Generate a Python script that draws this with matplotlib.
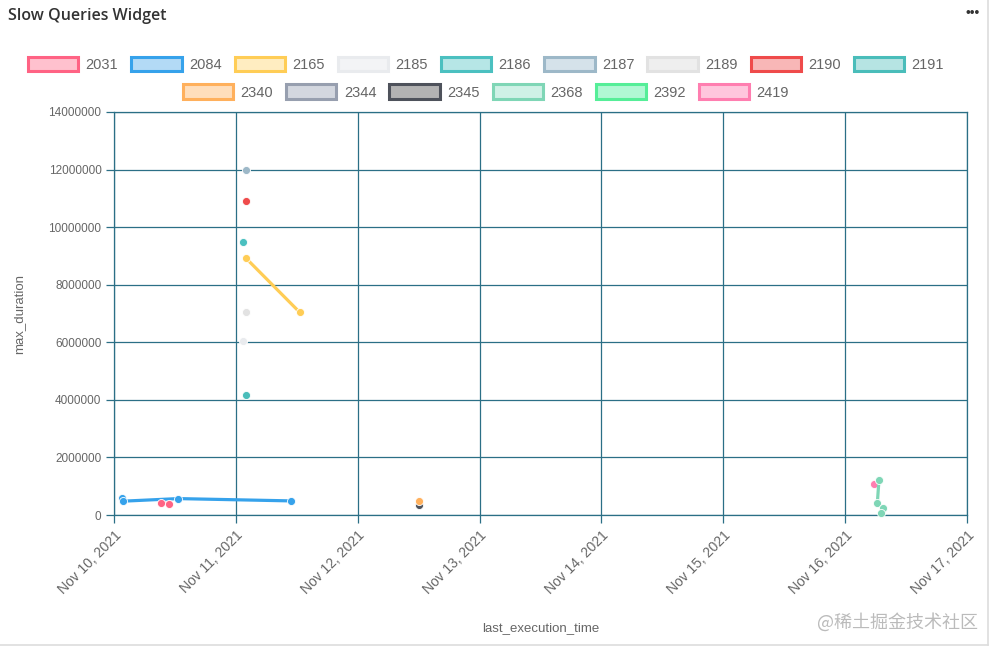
import matplotlib
matplotlib.use("Agg")
import matplotlib.pyplot as plt
import matplotlib.dates as mdates
from matplotlib.patches import Patch
from matplotlib.lines import Line2D
import pandas as pd

plt.rcParams['font.family'] = ['Liberation Sans', 'DejaVu Sans']

# ---- data ----
series_names = ["2031", "2084", "2165", "2185", "2186", "2187", "2189", "2190", "2191",
                "2340", "2344", "2345", "2368", "2392", "2419"]
edge_colors = ["#FF6384", "#36A2EB", "#FFCD56", "#E9EBEE", "#4BC0C0", "#9DB8C8", "#E2E2E2",
               "#EF4B4B", "#4ABDBA", "#FFB05C", "#979FAF", "#4E525B", "#7FD6B6", "#55EE98", "#FF7EB0"]
fill_colors = ["#FFC1CE", "#B3DAF6", "#FFEDC1", "#F3F4F6", "#B6E6E6", "#D5E2EA", "#EFEFEF",
               "#F8B7B7", "#B6E4E3", "#FFDEBB", "#D3D7DF", "#B3B3B3", "#CFF1E6", "#B0F8D4", "#FFC6DD"]

t_2031 = ["2021-11-10 09:15", "2021-11-10 10:50"]
v_2031 = [430000, 390000]
t_2084 = ["2021-11-10 01:30", "2021-11-10 01:45", "2021-11-10 12:40", "2021-11-11 10:50"]
v_2084 = [590000, 480000, 570000, 490000]
t_2165 = ["2021-11-11 02:00", "2021-11-11 12:35"]
v_2165 = [8920000, 7040000]
t_2185 = ["2021-11-11 01:30"]
v_2185 = [6040000]
t_2186 = ["2021-11-11 01:30"]
v_2186 = [9470000]
t_2187 = ["2021-11-11 02:00"]
v_2187 = [11990000]
t_2189 = ["2021-11-11 02:00"]
v_2189 = [7040000]
t_2190 = ["2021-11-11 02:00"]
v_2190 = [10910000]
t_2191 = ["2021-11-11 02:00"]
v_2191 = [4170000]
t_2340 = ["2021-11-12 12:00"]
v_2340 = [470000]
t_2344 = []
v_2344 = []
t_2345 = ["2021-11-12 12:00"]
v_2345 = [340000]
t_2368 = ["2021-11-16 06:40", "2021-11-16 06:20", "2021-11-16 07:30", "2021-11-16 07:00"]
v_2368 = [1220000, 406000, 233000, 59000]
t_2392 = []
v_2392 = []
t_2419 = ["2021-11-16 05:40"]
v_2419 = [1080000]

series_times = [t_2031, t_2084, t_2165, t_2185, t_2186, t_2187, t_2189, t_2190, t_2191,
                t_2340, t_2344, t_2345, t_2368, t_2392, t_2419]
series_values = [v_2031, v_2084, v_2165, v_2185, v_2186, v_2187, v_2189, v_2190, v_2191,
                 v_2340, v_2344, v_2345, v_2368, v_2392, v_2419]

x_start = "2021-11-10"
x_end = "2021-11-17"
y_ticks = [0, 2000000, 4000000, 6000000, 8000000, 10000000, 12000000, 14000000]

# ---- figure ----
W, H = 999, 652
fig = plt.figure(figsize=(W / 100, H / 100), dpi=100)
ax = fig.add_axes([114 / W, 1 - 515 / H, (967 - 114) / W, (515 - 112) / H])

grid_c = "#2b6f86"
n = len(series_names)
for i, (name, ts, vs, ec) in enumerate(zip(series_names, series_times, series_values, edge_colors)):
    if not ts:
        continue
    tt = pd.to_datetime(ts)
    # first dataset drawn on top
    ax.plot(tt, vs, color=ec, lw=2.3, marker="o", ms=5.8, mfc=ec, mec="white", mew=0.6,
            solid_capstyle="round", zorder=3 + (n - i) * 0.01, clip_on=False)

ax.set_xlim(pd.Timestamp(x_start), pd.Timestamp(x_end))
ax.set_ylim(0, 14000000)
ax.set_yticks(y_ticks)
ax.set_yticklabels([str(v) for v in y_ticks])
ax.xaxis.set_major_locator(mdates.DayLocator())
ax.xaxis.set_major_formatter(mdates.DateFormatter("%b %d, %Y"))

ax.grid(True, color=grid_c, lw=0.9)
ax.set_axisbelow(True)
for s in ax.spines.values():
    s.set_color(grid_c)
    s.set_linewidth(0.9)
ax.tick_params(axis="both", colors=grid_c, length=6, width=0.9, labelcolor="#666666")
ax.tick_params(axis="x", labelsize=10)
ax.tick_params(axis="y", labelsize=8.5, pad=3)
for lab in ax.get_xticklabels():
    lab.set_rotation(45)
    lab.set_ha("right")
    lab.set_va("top")
    lab.set_rotation_mode("anchor")

ax.set_ylabel("max_duration", fontsize=9.5, color="#666666")
ax.set_xlabel("last_execution_time", fontsize=9.5, color="#666666")
ax.yaxis.set_label_coords(-0.104, 0.5)
ax.xaxis.set_label_coords(0.5, -0.266)

# ---- legend (two centered rows) ----
handles = [Patch(facecolor=f, edgecolor=e, linewidth=2.2) for f, e in zip(fill_colors, edge_colors)]
leg_kw = dict(frameon=False, fontsize=10.5, handlelength=3.45, handleheight=1.15,
              handletextpad=0.5, columnspacing=0.9, borderaxespad=0, labelcolor="#666666")
leg1 = fig.legend(handles[:9], series_names[:9], loc="center", ncol=9,
                  bbox_to_anchor=(486 / W, 1 - 64.5 / H), **leg_kw)
leg2 = fig.legend(handles[9:], series_names[9:], loc="center", ncol=6,
                  bbox_to_anchor=(486 / W, 1 - 92 / H), **leg_kw)

# ---- card decorations ----
fig.text(8 / W, 1 - 16 / H, "Slow Queries Widget", fontsize=11.5, fontweight="semibold",
         color="#333333", va="center", ha="left", family=["Open Sans", "DejaVu Sans"])
fig.text(973 / W, 1 - 13 / H, "•••", fontsize=10, color="#333333", va="center", ha="center")
fig.add_artist(Line2D([988 / W, 988 / W], [1 - 645 / H, 1.0], color="#dddddd", lw=1.2,
                      transform=fig.transFigure))
fig.add_artist(Line2D([0, 988 / W], [1 - 645 / H, 1 - 645 / H], color="#dddddd", lw=1.2,
                      transform=fig.transFigure))
fig.text(978 / W, 1 - 622 / H, "@稀土掘金技术社区", fontsize=13, color="#bbbbbb",
         ha="right", va="center", family=["Noto Sans CJK SC", "DejaVu Sans"])

fig.savefig("out.png", dpi=100)
